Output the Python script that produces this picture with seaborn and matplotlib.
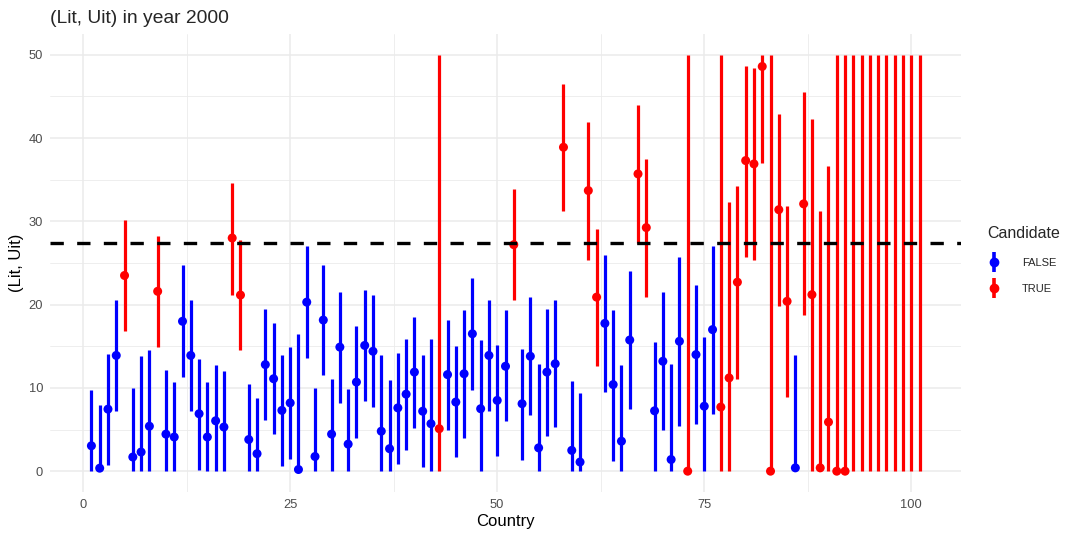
import numpy as np
import pandas as pd
import matplotlib
matplotlib.use("Agg")
import matplotlib.pyplot as plt
from matplotlib.lines import Line2D
from matplotlib.legend_handler import HandlerTuple
from matplotlib.ticker import MultipleLocator
import seaborn as sns

# ---------------- data ----------------
country = list(range(1, 102))
estimate = [3.05, 0.36, 7.45, 13.9, 23.5, 1.7, 2.3, 5.4, 21.6, 4.45,
            4.1, 18.0, 13.9, 6.9, 4.1, 6.05, 5.3, 28.0, 21.15, 3.8,
            2.1, 12.8, 11.1, 7.3, 8.2, 0.2, 20.3, 1.76, 18.15, 4.45,
            14.9, 3.25, 10.7, 15.1, 14.4, 4.8, 2.7, 7.6, 9.25, 11.9,
            7.2, 5.7, 5.1, 11.6, 8.3, 11.7, 16.5, 7.5, 13.9, 8.5,
            12.6, 27.2, 8.1, 13.8, 2.8, 11.9, 12.9, 38.9, 2.5, 1.1,
            33.7, 20.9, 17.75, 10.4, 3.6, 15.75, 35.7, 29.25, 7.25, 13.2,
            1.4, 15.6, 0.0, 14.0, 7.8, 17.0, 7.7, 11.2, 22.7, 37.3,
            36.9, 48.6, 0.0, 31.4, 20.4, 0.4, 32.1, 21.2, 0.4, 5.9,
            0.0, 0.0, np.nan, np.nan, np.nan, np.nan, np.nan, np.nan, np.nan, np.nan,
            np.nan]
lower = [0, 0, 0.76, 7.2, 16.8, 0, 0, 0, 14.9, 0,
         0, 11.3, 7.2, 0.2, 0, 0, 0, 21.2, 14.5, 0,
         0, 6.1, 4.5, 0.6, 1.5, 0, 13.6, 0, 11.5, 0,
         8.2, 0, 4.0, 8.45, 7.7, 0, 0, 0.9, 2.6, 5.2,
         0.5, 0, 0, 4.9, 1.7, 4.0, 9.8, 0, 7.25, 1.8,
         6.0, 20.6, 1.4, 6.7, 0, 4.2, 5.3, 31.25, 0, 0,
         25.4, 12.6, 9.45, 1.2, 0, 7.45, 27.4, 20.95, 0, 4.9,
         0, 5.45, 0, 5.7, 0, 6.9, 0, 0, 11.1, 25.7,
         25.4, 37.0, 0, 19.8, 8.9, 0, 18.7, 0, 0, 0,
         0, 0, 0, 0, 0, 0, 0, 0, 0, 0,
         0]
upper = [9.7, 8.0, 14.1, 20.5, 30.2, 10.0, 13.8, 14.5, 28.2, 12.1,
         10.7, 24.7, 20.5, 13.5, 10.7, 12.7, 12.0, 34.6, 27.8, 10.5,
         8.8, 19.5, 17.8, 14.0, 14.9, 16.5, 27.0, 10.0, 24.8, 11.1,
         21.55, 9.9, 17.4, 21.8, 21.1, 13.9, 11.0, 14.2, 15.9, 18.55,
         13.9, 15.9, 50, 18.2, 15.0, 19.3, 23.2, 15.7, 20.6, 15.2,
         19.3, 33.9, 14.7, 20.95, 12.9, 19.5, 20.6, 46.55, 10.8, 9.4,
         41.9, 29.1, 26.0, 19.4, 12.7, 24.0, 43.95, 37.5, 15.5, 21.5,
         12.9, 25.7, 50, 22.3, 16.1, 27.1, 50, 32.3, 34.2, 48.7,
         48.4, 50, 50, 42.9, 31.9, 13.9, 45.5, 42.3, 31.2, 36.7,
         50, 50, 50, 50, 50, 50, 50, 50, 50, 50,
         50]
candidate = (["FALSE"] * 4 + ["TRUE"] + ["FALSE"] * 3 + ["TRUE"] + ["FALSE"] * 8 +
             ["TRUE"] * 2 + ["FALSE"] * 23 + ["TRUE"] + ["FALSE"] * 8 + ["TRUE"] +
             ["FALSE"] * 5 + ["TRUE"] + ["FALSE"] * 2 + ["TRUE"] * 2 + ["FALSE"] * 4 +
             ["TRUE"] * 2 + ["FALSE"] * 4 + ["TRUE"] + ["FALSE"] * 3 + ["TRUE"] * 9 +
             ["FALSE"] + ["TRUE"] * 15)
threshold = 27.4
palette = {"FALSE": "#0000FF", "TRUE": "#FF0000"}

df = pd.DataFrame({"Country": country, "est": estimate, "lo": lower,
                   "hi": upper, "Candidate": candidate})

# ---------------- style ----------------
sns.set_theme(style="white")
plt.rcParams["font.family"] = ["Liberation Sans", "DejaVu Sans"]

fig = plt.figure(figsize=(10.8, 5.4), dpi=100)
ax = fig.add_axes([50 / 1080, 1 - 492 / 540, (961 - 50) / 1080, (492 - 34) / 540])

# grid
ax.set_xlim(-4, 106)
ax.set_ylim(-2.5, 52.5)
ax.xaxis.set_major_locator(MultipleLocator(25))
ax.xaxis.set_minor_locator(MultipleLocator(12.5))
ax.yaxis.set_major_locator(MultipleLocator(10))
ax.yaxis.set_minor_locator(MultipleLocator(5))
ax.grid(which="major", color="#EBEBEB", lw=1.1)
ax.grid(which="minor", color="#EBEBEB", lw=0.6)
ax.set_axisbelow(True)
for s in ax.spines.values():
    s.set_visible(False)
ax.tick_params(which="both", length=0, labelsize=9.3, labelcolor="#4D4D4D", pad=5)

# ranges
ax.vlines(df["Country"], df["lo"], df["hi"],
          colors=df["Candidate"].map(palette), lw=2.3, zorder=2)
# points
sns.scatterplot(data=df.dropna(subset=["est"]), x="Country", y="est",
                hue="Candidate", palette=palette, s=42, linewidth=0,
                ax=ax, legend=False, zorder=3)
ax.axhline(threshold, color="black", lw=2.4, linestyle=(0, (4, 4)), zorder=4)

ax.set_xlabel("Country", fontsize=12, color="black", labelpad=2)
ax.set_ylabel("(Lit, Uit)", fontsize=12, color="black", labelpad=3)
ax.set_title("(Lit, Uit) in year 2000", loc="left", fontsize=13.9, pad=8)

handles = []
labels = []
for lab in ["FALSE", "TRUE"]:
    vline = Line2D([], [], marker="|", markersize=14, mew=2.6,
                   color=palette[lab], linestyle="none")
    dot = Line2D([], [], marker="o", markersize=6, color=palette[lab],
                 linestyle="none")
    handles.append((vline, dot))
    labels.append(lab)
leg = fig.legend(handles, labels, title="Candidate",
                 handler_map={tuple: HandlerTuple(ndivide=1)},
                 loc="upper left", bbox_to_anchor=(0.905, 0.6), frameon=False,
                 fontsize=8, title_fontsize=11.5, handlelength=1.2,
                 handletextpad=1.9, labelspacing=1.5, alignment="left")

fig.savefig("out.png", dpi=100, facecolor="white")
